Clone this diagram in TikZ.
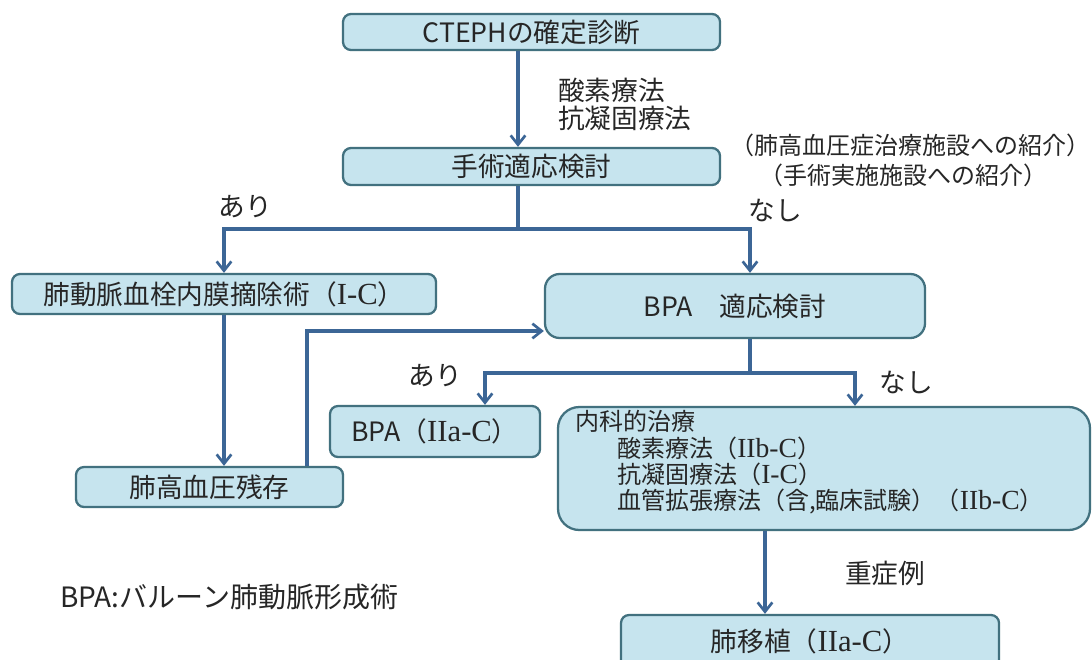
\documentclass[tikz,border=0pt]{standalone}
\usepackage{fontspec}
\setmainfont{Noto Sans CJK JP}
\newfontfamily\lat[Scale=1.15]{Liberation Serif}
\usetikzlibrary{arrows.meta}
\definecolor{boxfill}{HTML}{C6E4EE}
\definecolor{boxline}{HTML}{42717F}
\definecolor{arrcol}{HTML}{3C6696}
\definecolor{txt}{HTML}{262626}
\tikzset{
  box/.style={draw=boxline, fill=boxfill, line width=1.7pt, rounded corners=6pt, inner sep=0pt, text=txt, font=\fontsize{20}{24}\selectfont},
  arr/.style={draw=arrcol, line width=2.6pt, -{Straight Barb[length=7pt,width=11pt,line width=2pt]}},
  ln/.style={draw=arrcol, line width=2.6pt},
  lbl/.style={text=txt, inner sep=0pt, font=\fontsize{20}{24}\selectfont},
  sml/.style={text=txt, inner sep=0pt, font=\fontsize{18}{21}\selectfont},
  medl/.style={sml, anchor=west, text height=12.5pt, text depth=2.5pt}
}
\begin{document}
\begin{tikzpicture}[x=0.75pt,y=-0.75pt]
\useasboundingbox (0,0) rectangle (1092,660);
\clip (0,0) rectangle (1092,660);
\fill[white] (0,0) rectangle (1092,660);
% boxes
\node[box, minimum width=282.75pt, minimum height=27pt] (cteph) at (531.5,32) {CTEPHの確定診断};
\node[box, minimum width=282.75pt, minimum height=27.75pt] (surg) at (531.5,166.5) {手術適応検討};
\node[box, minimum width=318pt, minimum height=30pt] (pea) at (224,294) {肺動脈血栓内膜摘除術（{\lat I-C}）};
\node[box, minimum width=285pt, minimum height=48pt, rounded corners=11pt] (bpa) at (735,306) {BPA　適応検討};
\node[box, minimum width=157.5pt, minimum height=38.25pt] (bpa2) at (435,431.5) {BPA（{\lat IIa-C}）};
\node[box, minimum width=200.25pt, minimum height=30pt] (rem) at (209.5,487) {肺高血圧残存};
\node[box, minimum width=399pt, minimum height=92.25pt, rounded corners=16pt] (med) at (824,468.5) {};
\node[box, minimum width=283.5pt, minimum height=39.75pt] (lung) at (810,641.5) {肺移植（{\lat IIa-C}）};
% text inside med
\node[medl] (m1) at (575,424) {内科的治療};
\node[medl] (m2) at (617,451) {酸素療法（{\lat IIb-C}）};
\node[medl] (m3) at (617,477) {抗凝固療法（{\lat I-C}）};
\node[medl] (m4) at (617,503) {血管拡張療法（含,臨床試験）（{\lat IIb-C}）};
% coordinates
\coordinate (t1) at (518,0);
\coordinate (j1) at (518,229);
\coordinate (bx) at (750,0);
\coordinate (ux) at (307,0);
\coordinate (uy) at (0,331);
\coordinate (j2) at (750,373);
\coordinate (lx) at (485,0);
\coordinate (rx) at (855,0);
\coordinate (mx) at (765,0);
% connectors
\draw[arr] (cteph.south -| t1) -- (surg.north -| t1);
\draw[ln] (surg.south -| j1) -- (j1);
\draw[arr] (j1) -| (pea.north);
\draw[arr] (j1) -| (bpa.north -| bx);
\draw[arr] (pea.south) -- (pea.south |- rem.north);
\draw[arr] (rem.north -| ux) |- (bpa.west |- uy);
\draw[ln] (bpa.south -| j2) -- (j2);
\draw[arr] (j2) -| (bpa2.north -| lx);
\draw[arr] (j2) -| (med.north -| rx);
\draw[arr] (med.south -| mx) -- (lung.north -| mx);
% labels
\node[lbl, anchor=west] (o1) at (558,90) {酸素療法};
\node[lbl, anchor=west] (o2) at (558,118) {抗凝固療法};
\node[sml] (r1) at (910,145) {（肺高血圧症治療施設への紹介）};
\node[sml] (r2) at (903,175) {（手術実施施設への紹介）};
\node[lbl] (a1) at (245,207) {あり};
\node[lbl] (n1) at (775,210) {なし};
\node[lbl] (a2) at (435,376) {あり};
\node[lbl] (n2) at (906,382) {なし};
\node[lbl] (sev) at (885,573) {重症例};
\node[lbl, anchor=west, font=\fontsize{21}{24}\selectfont] (note) at (60,597) {BPA:バルーン肺動脈形成術};
\end{tikzpicture}
\end{document}
